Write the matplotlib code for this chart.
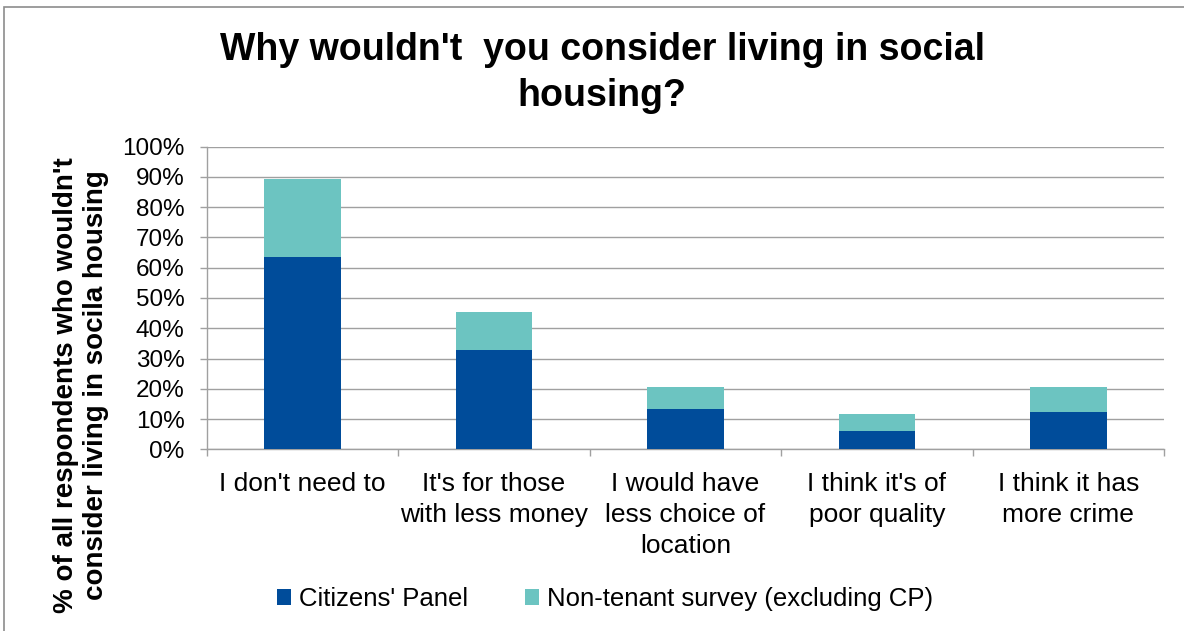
import numpy as np
import matplotlib
matplotlib.use("Agg")
import matplotlib.pyplot as plt
from matplotlib.patches import Rectangle
from matplotlib.ticker import PercentFormatter, FixedLocator

plt.rcParams['font.family'] = ['Liberation Sans', 'DejaVu Sans']

# reasons given, and share of respondents per survey (%)
reasons = ["I don't need to", "It's for those\nwith less money",
           "I would have\nless choice of\nlocation", "I think it's of\npoor quality",
           "I think it has\nmore crime"]
citizens_panel = [63.5, 32.9, 13.4, 6.0, 12.2]
non_tenant = [25.8, 12.4, 7.2, 5.8, 8.4]

dark_blue = "#004C9A"
teal = "#6CC4C1"
grid_grey = "#A0A0A0"

fig = plt.figure(figsize=(11.84, 6.31), dpi=100)
W, H = 1184, 631
ax = fig.add_axes([206.7 / W, 1 - 449.3 / H, (1164 - 206.7) / W, (449.3 - 146.7) / H])

x = np.arange(len(reasons))
b1 = ax.bar(x, citizens_panel, width=0.4, color=dark_blue, label="Citizens' Panel", zorder=3)
b2 = ax.bar(x, non_tenant, width=0.4, bottom=citizens_panel, color=teal,
            label="Non-tenant survey (excluding CP)", zorder=3)

ax.set_xlim(-0.5, len(reasons) - 0.5)
ax.set_ylim(0, 100)
ax.set_yticks(np.arange(0, 101, 10))
ax.yaxis.set_major_formatter(PercentFormatter(decimals=0))
ax.grid(axis='y', color=grid_grey, linewidth=1.0, zorder=0)

ax.set_xticks(x)
ax.set_xticklabels(reasons, fontsize=19, linespacing=1.38)
ax.tick_params(axis='x', length=0, pad=16)
ax.xaxis.set_minor_locator(FixedLocator(np.arange(-0.5, len(reasons), 1.0)))
ax.tick_params(axis='x', which='minor', length=5, color=grid_grey, width=1.0)
ax.tick_params(axis='y', length=5, color=grid_grey, width=1.0, labelsize=17.5, pad=11)

for side in ('top', 'right'):
    ax.spines[side].set_visible(False)
for side in ('left', 'bottom'):
    ax.spines[side].set_color(grid_grey)
    ax.spines[side].set_linewidth(1.0)

fig.text(602 / W, 1 - 73 / H, "Why wouldn't  you consider living in social\nhousing?",
         ha='center', va='center', fontsize=27, fontweight='bold', linespacing=1.35)

fig.text(81 / W, 1 - 385 / H,
         "% of all respondents who wouldn't\nconsider living in socila housing",
         rotation=90, ha='center', va='center', fontsize=20, fontweight='bold',
         linespacing=1.2, multialignment='center')

fig.legend(handles=[b1, b2], loc='center', bbox_to_anchor=(605 / W, 1 - 599 / H),
           ncol=2, frameon=False, fontsize=18.5, handlelength=0.55, handleheight=0.55,
           handletextpad=0.3, columnspacing=2.2)

# outer chart frame
fig.patches.append(Rectangle((4 / W, -0.1), 1.2, 1 - 7 / H + 0.1, transform=fig.transFigure,
                             fill=False, edgecolor="#8C8C8C", linewidth=1.2))

fig.savefig("out.png", dpi=100)
